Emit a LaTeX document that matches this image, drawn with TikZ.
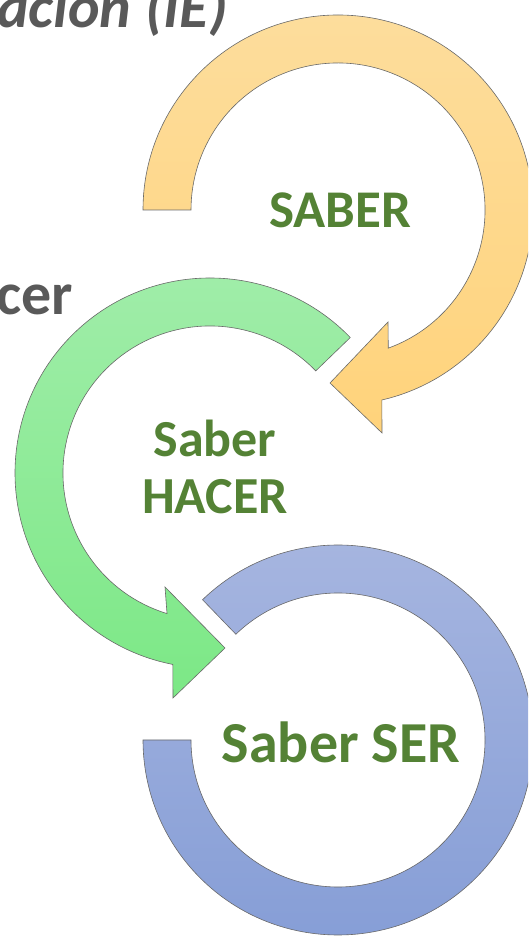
\documentclass[tikz,border=0pt]{standalone}
\usepackage{fontspec}
\setmainfont{Carlito}
\usetikzlibrary{arrows}
\definecolor{saberverde}{RGB}{84,130,53}
\definecolor{gris}{RGB}{89,89,89}
\definecolor{naranjaA}{RGB}{253,221,156}
\definecolor{naranjaB}{RGB}{255,211,123}
\definecolor{verdeA}{RGB}{161,237,170}
\definecolor{verdeB}{RGB}{124,232,134}
\definecolor{azulA}{RGB}{167,182,224}
\definecolor{azulB}{RGB}{133,157,214}
\definecolor{borde}{RGB}{105,105,105}
\tikzstyle{band}=[draw=borde, line width=0.6pt, line join=miter]
\tikzstyle{saber}=[text=saberverde, align=center, inner sep=0pt]
\tikzstyle{gristext}=[text=gris, inner sep=0pt]

\begin{document}
\begin{tikzpicture}[x=1pt,y=1pt]
\useasboundingbox (0,0) rectangle (528,936);
\clip (0,0) rectangle (528,936);
\coordinate (oc) at (338,726);
\coordinate (gc) at (210,463);
\coordinate (bc) at (338,196);
% SABER (naranja)
\draw[band, top color=naranjaA, bottom color=naranjaB]
  ([shift={(180:195)}]oc) arc[start angle=180, end angle=-77, radius=195]
  -- (382,503) -- (330,553) -- (388,614)
  -- ([shift={(-70:147)}]oc) arc[start angle=-70, end angle=180, radius=147] -- cycle;
% Saber HACER (verde)
\draw[band, top color=verdeA, bottom color=verdeB]
  ([shift={(44:195)}]gc) arc[start angle=44, end angle=259, radius=195]
  -- (173,238) -- (225,288) -- (165,349)
  -- ([shift={(253:147)}]gc) arc[start angle=253, end angle=44, radius=147] -- cycle;
% Saber SER (azul)
\draw[band, top color=azulA, bottom color=azulB]
  ([shift={(134:195)}]bc) arc[start angle=134, end angle=-180, radius=195]
  -- ([shift={(180:147)}]bc) arc[start angle=-180, end angle=134, radius=147] -- cycle;
% textos
\node[saber, font=\fontsize{53}{57}\selectfont\bfseries] (a) at (340,726) {SABER};
\node[saber, font=\fontsize{52}{57}\selectfont\bfseries] (b) at (215,469) {Saber\\HACER};
\node[saber, font=\fontsize{58}{64}\selectfont\bfseries] (c) at (341,194) {Saber SER};
\node[gristext, anchor=base east, font=\fontsize{60}{66}\selectfont\bfseries\itshape] (d) at (228,908) {ación (IE)};
\node[gristext, anchor=base east, font=\fontsize{60}{66}\selectfont\bfseries] (e) at (73,621) {cer};
\end{tikzpicture}
\end{document}
